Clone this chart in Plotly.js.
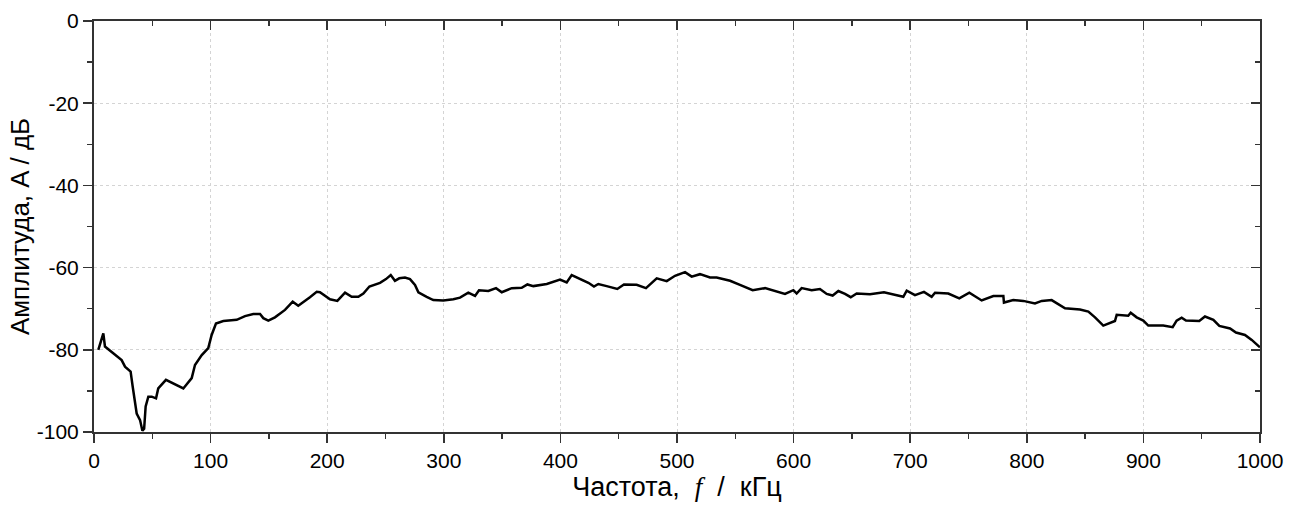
<!DOCTYPE html>
<html>
<head>
<meta charset="utf-8">
<script src="https://cdn.plot.ly/plotly-3.0.1.min.js"></script>
<style>html,body{margin:0;padding:0;background:#fff;}#chart{width:1306px;height:507px;}</style>
</head>
<body>
<div id="chart"></div>
<script>
const freq = [3.7, 8, 9.4, 16.6, 23.7, 26.6, 31.4, 33.2, 36.6, 39.5, 41.5, 43, 44.3, 46.6, 49.5, 53.2, 55.1, 61.7, 76.6, 83.8, 86.6, 92.4, 98, 100.9, 104.6, 110.9, 122.4, 129.5, 136.6, 142.4, 145.2, 149.5, 155.2, 163.8, 170.4, 175.2, 179.5, 185.2, 191, 193.8, 202.4, 208.7, 215.3, 221, 226.7, 231, 236.2, 245.3, 250.4, 254.5, 258.1, 261.8, 266.7, 271, 275.3, 278.2, 285.3, 291, 299.6, 308.2, 313.9, 321, 326.8, 330.2, 338.2, 344.8, 349.7, 358.3, 366.8, 371.7, 376.8, 388.3, 399.7, 405.4, 409.7, 416.8, 424, 428.8, 432.5, 439.7, 448.8, 454.5, 465.4, 473.4, 482.6, 491.2, 498.3, 506.9, 512.6, 519.7, 528.3, 534, 545.5, 554, 564.9, 575.5, 585.5, 592.6, 599.8, 602.6, 606.9, 615.5, 622.6, 628.4, 633.5, 638.4, 644.1, 649, 654.1, 665.5, 677.5, 690.7, 694.1, 697, 704.1, 711.8, 718.4, 721.3, 732.7, 742.1, 750.7, 761.3, 771.3, 779.9, 780.4, 788.4, 797, 807, 812.8, 821.3, 832.8, 845.6, 852.8, 858.5, 865.6, 875.6, 877.1, 887, 889.1, 894.2, 899.9, 904.2, 917, 925.1, 928.5, 932.8, 936.5, 947.9, 952.8, 960, 965.1, 974.3, 979.4, 987.1, 992.9, 1000];
const amplitude = [-80.0, -76.0, -79.2, -80.9, -82.5, -84.1, -85.3, -89.0, -95.5, -97.1, -99.7, -99.2, -93.8, -91.4, -91.4, -91.8, -89.4, -87.3, -89.4, -86.9, -83.7, -81.3, -79.6, -76.4, -73.6, -73.0, -72.7, -71.8, -71.3, -71.3, -72.3, -72.9, -72.1, -70.3, -68.3, -69.3, -68.3, -67.2, -65.9, -66.0, -67.7, -68.1, -66.1, -67.1, -67.1, -66.3, -64.6, -63.7, -62.8, -61.8, -63.2, -62.6, -62.4, -62.8, -64.2, -66.0, -67.1, -67.9, -68.0, -67.7, -67.3, -66.1, -66.9, -65.5, -65.7, -65.0, -66.0, -65.0, -64.9, -64.1, -64.5, -64.0, -62.9, -63.6, -61.8, -62.8, -63.7, -64.6, -64.0, -64.5, -65.2, -64.1, -64.2, -65.0, -62.6, -63.3, -62.0, -61.1, -62.2, -61.6, -62.4, -62.4, -63.2, -64.2, -65.5, -65.0, -65.9, -66.4, -65.5, -66.3, -65.0, -65.5, -65.2, -66.4, -66.8, -65.7, -66.4, -67.2, -66.3, -66.5, -66.0, -66.8, -67.1, -65.6, -66.7, -65.9, -67.1, -66.1, -66.3, -67.5, -66.1, -68.0, -66.9, -66.9, -68.5, -67.9, -68.1, -68.7, -68.1, -67.9, -69.9, -70.2, -70.7, -72.1, -74.1, -73.0, -71.5, -71.7, -71.0, -72.1, -72.9, -74.1, -74.1, -74.5, -72.9, -72.2, -72.9, -73.0, -71.9, -72.7, -74.2, -74.8, -75.8, -76.4, -77.6, -79.4];
const xTickVals = [0, 100, 200, 300, 400, 500, 600, 700, 800, 900, 1000];
const yTickVals = [0, -20, -40, -60, -80, -100];

const axisColor = '#333333';
const tickFont = {family: 'Liberation Sans, Arial, sans-serif', size: 21, color: '#000'};
const titleFont = {family: 'Liberation Sans, Arial, sans-serif', size: 26, color: '#000'};

const traces = [
  {x: freq, y: amplitude, type: 'scatter', mode: 'lines', line: {color: '#000', width: 2.5}, xaxis: 'x', yaxis: 'y', hoverinfo: 'skip'},
  {x: freq, y: amplitude, type: 'scatter', mode: 'lines', line: {color: 'rgba(0,0,0,0)', width: 0}, xaxis: 'x2', yaxis: 'y2', hoverinfo: 'skip', showlegend: false}
];

const layout = {
  width: 1306, height: 507,
  margin: {l: 94, r: 46, t: 21, b: 75},
  paper_bgcolor: '#fff', plot_bgcolor: '#fff',
  showlegend: false,
  font: {family: 'Liberation Sans, Arial, sans-serif', color: '#000'},
  xaxis: {
    range: [0, 1000], tickvals: xTickVals, ticktext: xTickVals.map(String),
    ticks: 'outside', ticklen: 9, tickwidth: 1.5, tickcolor: axisColor,
    minor: {dtick: 50, tick0: 0, ticks: 'outside', ticklen: 5, tickwidth: 1.5, tickcolor: axisColor, showgrid: false},
    showline: true, linecolor: axisColor, linewidth: 2,
    showgrid: true, gridcolor: '#d4d4d4', griddash: 'dot', gridwidth: 1,
    zeroline: false, tickfont: tickFont,
    title: {text: 'Частота,  <i style="font-family:Liberation Serif, Times New Roman, serif">f</i>  /  кГц', font: {family: 'Liberation Sans, Arial, sans-serif', size: 27, color: '#000'}, standoff: 6}
  },
  yaxis: {
    range: [-100, 0], tickvals: yTickVals, ticktext: yTickVals.map(String),
    ticks: 'outside', ticklen: 9, tickwidth: 1.5, tickcolor: axisColor,
    minor: {dtick: 10, tick0: 0, ticks: 'outside', ticklen: 5, tickwidth: 1.5, tickcolor: axisColor, showgrid: false},
    showline: true, linecolor: axisColor, linewidth: 2,
    showgrid: true, gridcolor: '#d4d4d4', griddash: 'dot', gridwidth: 1,
    zeroline: false, tickfont: tickFont,
    title: {text: 'Амплитуда, A / дБ', font: titleFont, standoff: 0}
  },
  xaxis2: {
    overlaying: 'x', side: 'top', anchor: 'y2', range: [0, 1000], tickvals: xTickVals,
    ticks: 'inside', ticklen: 9, tickwidth: 1.5, tickcolor: axisColor,
    minor: {dtick: 50, tick0: 0, ticks: 'inside', ticklen: 5, tickwidth: 1.5, tickcolor: axisColor, showgrid: false},
    showticklabels: false, showline: true, linecolor: axisColor, linewidth: 2, showgrid: false, zeroline: false
  },
  yaxis2: {
    overlaying: 'y', side: 'right', anchor: 'x2', range: [-100, 0], tickvals: yTickVals,
    ticks: 'inside', ticklen: 9, tickwidth: 1.5, tickcolor: axisColor,
    minor: {dtick: 10, tick0: 0, ticks: 'inside', ticklen: 5, tickwidth: 1.5, tickcolor: axisColor, showgrid: false},
    showticklabels: false, showline: true, linecolor: axisColor, linewidth: 2, showgrid: false, zeroline: false
  }
};

Plotly.newPlot('chart', traces, layout, {staticPlot: true, displayModeBar: false});
</script>
</body>
</html>
